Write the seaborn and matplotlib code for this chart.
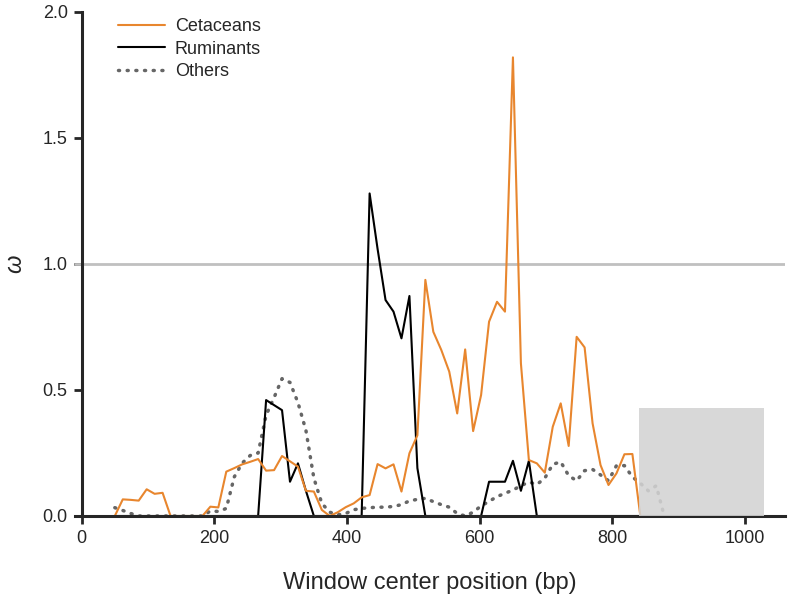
import numpy as np
import pandas as pd
import matplotlib
matplotlib.use("Agg")
import matplotlib.pyplot as plt
import seaborn as sns
from matplotlib.patches import Rectangle

# window centre positions (bp), step 12
positions = list(range(50, 890, 12))

cetaceans = [0.0, 0.066, 0.064, 0.061, 0.106, 0.088, 0.092, 0.0, 0.0, 0.0,
             0.0, 0.0, 0.037, 0.034, 0.176, 0.19, 0.205, 0.215, 0.226, 0.18,
             0.182, 0.238, 0.217, 0.196, 0.1, 0.097, 0.024, 0.0, 0.015, 0.035,
             0.05, 0.074, 0.083, 0.206, 0.189, 0.205, 0.097, 0.249, 0.32, 0.937,
             0.731, 0.659, 0.573, 0.407, 0.661, 0.337, 0.48, 0.771, 0.85, 0.811,
             1.82, 0.606, 0.222, 0.209, 0.172, 0.354, 0.447, 0.278, 0.711, 0.669,
             0.368, 0.202, 0.123, 0.169, 0.245, 0.246, 0.0]

ruminants = [0.0] * 18 + [0.0, 0.46, 0.44, 0.42, 0.136, 0.209, 0.1, 0.0,
             0.0, 0.0, 0.0, 0.0, 0.0, 0.0, 1.28, 1.06, 0.857, 0.811, 0.705,
             0.873, 0.19, 0.0, 0.0, 0.0, 0.0, 0.0, 0.0, 0.0, 0.0, 0.136, 0.136,
             0.136, 0.219, 0.1, 0.219, 0.0] + [0.0] * 13

others = [0.033, 0.022, 0.01, 0.0, 0.0, 0.0, 0.0, 0.0, 0.0, 0.0,
          0.0, 0.0, 0.02, 0.018, 0.03, 0.155, 0.21, 0.24, 0.25, 0.4,
          0.47, 0.545, 0.53, 0.45, 0.34, 0.15, 0.05, 0.015, 0.005, 0.01,
          0.025, 0.03, 0.033, 0.035, 0.035, 0.038, 0.045, 0.06, 0.066, 0.07,
          0.057, 0.045, 0.035, 0.01, 0.0, 0.015, 0.04, 0.058, 0.077, 0.09,
          0.103, 0.12, 0.135, 0.125, 0.15, 0.205, 0.215, 0.16, 0.14, 0.18,
          0.185, 0.163, 0.14, 0.2, 0.2, 0.155, 0.13, 0.1, 0.12, 0.0]

df_c = pd.DataFrame({"pos": positions[:len(cetaceans)], "omega": cetaceans})
df_r = pd.DataFrame({"pos": positions[:len(ruminants)], "omega": ruminants})
df_o = pd.DataFrame({"pos": positions[:len(others)], "omega": others})

sns.set_style("ticks")
plt.rcParams['font.family'] = ['Liberation Sans', 'DejaVu Sans']

fig = plt.figure(figsize=(7.89, 6.02), dpi=100)
ax = fig.add_axes([75 / 789, 86 / 602, 710 / 789, 504 / 602])

ax.axhline(1.0, color="#c0c0c0", lw=2, zorder=1)
sns.lineplot(data=df_o, x="pos", y="omega", ax=ax, color="#666666", lw=2.5,
             linestyle=(0, (0.3, 2.2)), dash_capstyle="round", label="Others")
sns.lineplot(data=df_r, x="pos", y="omega", ax=ax, color="black", lw=1.5,
             label="Ruminants")
sns.lineplot(data=df_c, x="pos", y="omega", ax=ax, color="#e8862e", lw=1.5,
             label="Cetaceans")
ax.add_patch(Rectangle((840, 0), 188, 0.43, facecolor="#d3d3d3", alpha=0.88,
                       edgecolor="none", zorder=3))

ax.set_xlim(-10, 1060)
ax.set_ylim(0, 2.0)
ax.spines["left"].set_position(("data", 0))
ax.spines["left"].set_bounds(0, 2.0)
for s in ["left", "bottom"]:
    ax.spines[s].set_linewidth(2.2)
sns.despine(ax=ax)
ax.set_xticks([0, 200, 400, 600, 800, 1000])
ax.set_yticks([0.0, 0.5, 1.0, 1.5, 2.0])
ax.set_yticklabels(["0.0", "0.5", "1.0", "1.5", "2.0"])
ax.tick_params(axis="both", direction="out", length=6, width=2, labelsize=13,
               pad=4)
ax.set_xlabel("Window center position (bp)", fontsize=17, labelpad=18)
ax.set_ylabel("ω", fontsize=17, style="italic", rotation=90, va="center")
ax.yaxis.set_label_coords(-0.085, 0.5)

h, l = ax.get_legend_handles_labels()
order = [2, 1, 0]
ax.legend([h[i] for i in order], [l[i] for i in order], loc="upper left",
          bbox_to_anchor=(0.045, 1.009), frameon=False, fontsize=13,
          handlelength=2.6, labelspacing=0.3, handletextpad=0.55,
          borderaxespad=0.2)

fig.savefig("out.png", dpi=100)
